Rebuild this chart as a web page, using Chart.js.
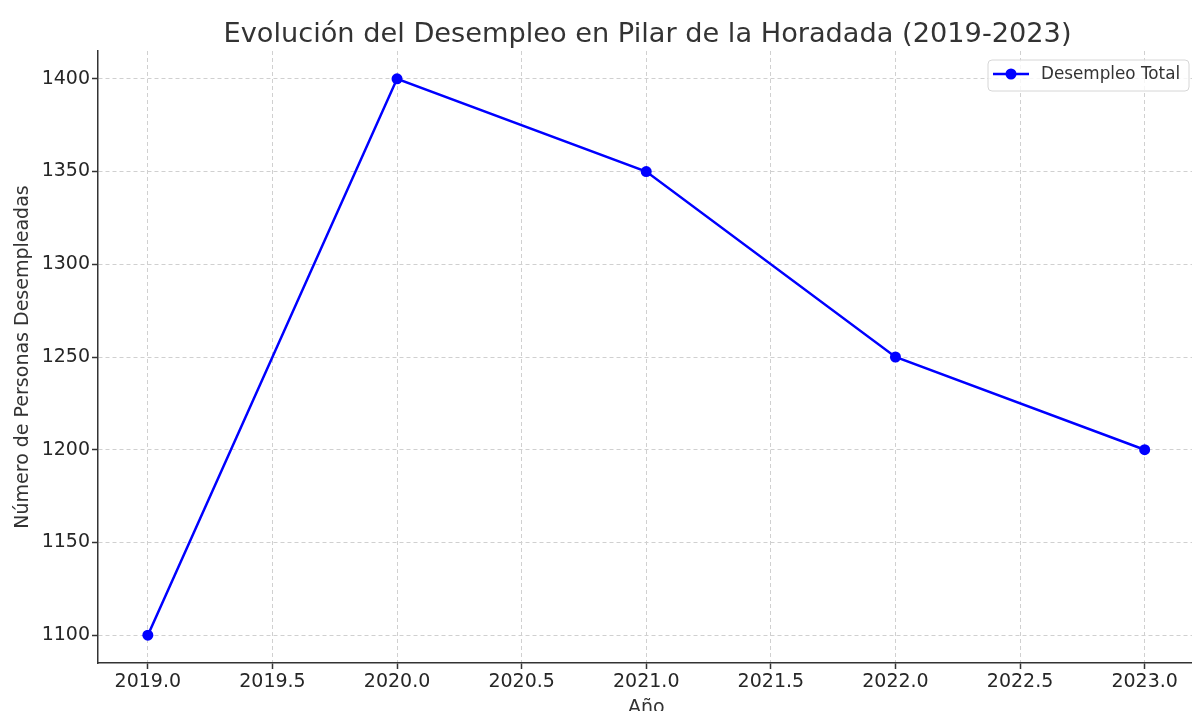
<!DOCTYPE html>
<html>
<head>
<meta charset="utf-8">
<script src="https://cdn.jsdelivr.net/npm/chart.js@4"></script>
<style>
html,body{margin:0;padding:0;background:#fff;overflow:hidden;width:1192px;height:711px;}
#wrap{position:absolute;left:0;top:0;width:1200px;height:711px;}
</style>
</head>
<body>
<div id="wrap"><canvas id="c" width="1200" height="711" style="width:1200px;height:711px;"></canvas></div>
<script>
const years = [2019, 2020, 2021, 2022, 2023];
const unemployed = [1100, 1400, 1350, 1250, 1200];
const xTicks = [2019.0, 2019.5, 2020.0, 2020.5, 2021.0, 2021.5, 2022.0, 2022.5, 2023.0];
const yTicks = [1100, 1150, 1200, 1250, 1300, 1350, 1400];
const seriesName = 'Desempleo Total';
const titleText = 'Evolución del Desempleo en Pilar de la Horadada (2019-2023)';
const xTitle = 'Año';
const yTitle = 'Número de Personas Desempleadas';

const FONT = "'DejaVu Sans', sans-serif";
const TXT = '#333333';
const GRID = '#d0d0d0';

const titlePlugin = {
  id: 'mplTitle',
  afterDraw(chart) {
    const ctx = chart.ctx;
    ctx.save();
    ctx.font = "27.2px " + FONT;
    ctx.fillStyle = TXT;
    ctx.textAlign = 'center';
    ctx.textBaseline = 'alphabetic';
    ctx.fillText(titleText, 647.5, 42);
    ctx.restore();
  }
};

const legendPlugin = {
  id: 'mplLegend',
  afterDraw(chart) {
    const ctx = chart.ctx;
    const ds = chart.data.datasets[0];
    const x = 988, y = 60, w = 201, h = 31, r = 4;
    ctx.save();
    ctx.beginPath();
    ctx.moveTo(x + r, y);
    ctx.lineTo(x + w - r, y); ctx.arcTo(x + w, y, x + w, y + r, r);
    ctx.lineTo(x + w, y + h - r); ctx.arcTo(x + w, y + h, x + w - r, y + h, r);
    ctx.lineTo(x + r, y + h); ctx.arcTo(x, y + h, x, y + h - r, r);
    ctx.lineTo(x, y + r); ctx.arcTo(x, y, x + r, y, r);
    ctx.closePath();
    ctx.fillStyle = 'rgba(255,255,255,0.8)';
    ctx.fill();
    ctx.strokeStyle = '#d6d6d6';
    ctx.lineWidth = 1;
    ctx.stroke();
    const ly = 74;
    ctx.beginPath();
    ctx.moveTo(993, ly); ctx.lineTo(1029, ly);
    ctx.strokeStyle = ds.borderColor; ctx.lineWidth = 2.5; ctx.stroke();
    ctx.beginPath();
    ctx.arc(1011, ly, 5.5, 0, Math.PI * 2);
    ctx.fillStyle = ds.pointBackgroundColor; ctx.fill();
    ctx.font = "16.8px " + FONT;
    ctx.fillStyle = TXT;
    ctx.textAlign = 'left';
    ctx.textBaseline = 'middle';
    ctx.fillText(ds.label, 1041, ly + 1);
    ctx.restore();
  }
};

new Chart(document.getElementById('c'), {
  type: 'line',
  data: {
    datasets: [{
      label: seriesName,
      data: years.map((yr, i) => ({ x: yr, y: unemployed[i] })),
      borderColor: '#0000ff',
      backgroundColor: '#0000ff',
      pointBackgroundColor: '#0000ff',
      pointBorderWidth: 0,
      pointRadius: 5.5,
      borderWidth: 2.5,
      tension: 0,
      fill: false
    }]
  },
  options: {
    responsive: false,
    devicePixelRatio: 1,
    animation: false,
    layout: { padding: { top: 51, right: 3, left: 0, bottom: 0 } },
    plugins: {
      legend: { display: false },
      title: { display: false },
      tooltip: { enabled: false }
    },
    scales: {
      x: {
        type: 'linear',
        min: 2018.8,
        max: 2023.2,
        afterBuildTicks: s => { s.ticks = xTicks.map(v => ({ value: v })); },
        afterFit: s => { s.height = 48; s.paddingLeft = 0; s.paddingRight = 0; },
        ticks: {
          callback: v => Number(v).toFixed(1),
          font: { family: FONT, size: 19 },
          color: '#262626',
          padding: 2,
          maxRotation: 0,
          autoSkip: false
        },
        grid: {
          color: GRID,
          lineWidth: 1,
          borderDash: [4, 3],
          tickColor: '#333333',
          tickLength: 6,
          tickWidth: 1.5,
          tickBorderDash: []
        },
        border: { display: true, color: '#333333', width: 1.5, dash: [4, 3] },
        title: {
          display: true,
          text: xTitle,
          font: { family: FONT, size: 19 },
          color: TXT,
          padding: { top: -8, bottom: -8 }
        }
      },
      y: {
        type: 'linear',
        min: 1085,
        max: 1415,
        afterBuildTicks: s => { s.ticks = yTicks.map(v => ({ value: v })); },
        afterFit: s => { s.width = 98; s.paddingTop = 0; s.paddingBottom = 0; },
        ticks: {
          callback: v => String(v),
          font: { family: FONT, size: 19 },
          color: '#262626',
          padding: 2
        },
        grid: {
          color: GRID,
          lineWidth: 1,
          borderDash: [4, 3],
          tickColor: '#333333',
          tickLength: 6,
          tickWidth: 1.5,
          tickBorderDash: []
        },
        border: { display: true, color: '#333333', width: 1.5, dash: [4, 3] },
        title: {
          display: true,
          text: yTitle,
          font: { family: FONT, size: 19 },
          color: TXT,
          padding: { top: 12, bottom: 0 }
        }
      }
    }
  },
  plugins: [titlePlugin, legendPlugin]
});
</script>
</body>
</html>
